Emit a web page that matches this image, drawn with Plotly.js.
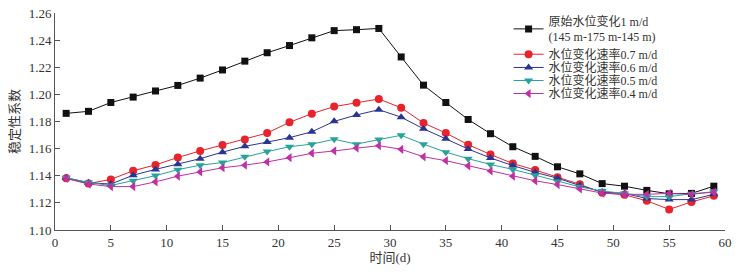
<!DOCTYPE html>
<html>
<head>
<meta charset="utf-8">
<script src="https://cdn.plot.ly/plotly-3.0.1.min.js"></script>
<style>html,body{margin:0;padding:0;background:#fff;}#chart{width:743px;height:274px;}</style>
</head>
<body>
<div id="chart"></div>
<script>
var days = [1,3,5,7,9,11,13,15,17,19,21,23,25,27,29,31,33,35,37,39,41,43,45,47,49,51,53,55,57,59];

var original = [1.186,1.1875,1.194,1.198,1.2025,1.2066,1.212,1.218,1.2245,1.2307,1.236,1.2417,1.247,1.2477,1.2486,1.2276,1.2068,1.194,1.1815,1.171,1.1614,1.1543,1.1466,1.1414,1.1342,1.1323,1.1292,1.1267,1.127,1.1323];
var rate07 = [1.1382,1.1342,1.1373,1.1437,1.148,1.1535,1.1583,1.1626,1.1667,1.1715,1.1794,1.1858,1.191,1.1939,1.1966,1.1901,1.1789,1.1715,1.1629,1.1557,1.149,1.1442,1.1389,1.1337,1.1275,1.126,1.1215,1.1152,1.1207,1.1252];
var rate06 = [1.1385,1.1348,1.1339,1.1404,1.1447,1.1485,1.1526,1.1574,1.1617,1.1648,1.1681,1.1724,1.1801,1.1848,1.1887,1.1832,1.1746,1.1672,1.1597,1.1531,1.1475,1.1425,1.1382,1.1328,1.128,1.127,1.1232,1.1224,1.1224,1.1263];
var rate05 = [1.1385,1.1351,1.1328,1.1363,1.1401,1.1445,1.1478,1.1497,1.154,1.1578,1.1614,1.1633,1.1669,1.1633,1.1667,1.1698,1.1633,1.1574,1.1526,1.1483,1.1447,1.1404,1.1358,1.1318,1.1287,1.127,1.1246,1.1246,1.1267,1.1282];
var rate04 = [1.138,1.1339,1.132,1.132,1.1355,1.1397,1.1428,1.1459,1.1478,1.1502,1.1533,1.1566,1.1583,1.1604,1.1622,1.1595,1.154,1.1511,1.1473,1.1435,1.1397,1.1363,1.1335,1.1303,1.1272,1.1263,1.1263,1.127,1.1263,1.128];

var seriesNames = ['原始水位变化1 m/d<br>(145 m-175 m-145 m)','水位变化速率0.7 m/d','水位变化速率0.6 m/d','水位变化速率0.5 m/d','水位变化速率0.4 m/d'];
var xTicks = [0,5,10,15,20,25,30,35,40,45,50,55,60];
var yTicks = [1.10,1.12,1.14,1.16,1.18,1.20,1.22,1.24,1.26];

var seriesData = [original, rate07, rate06, rate05, rate04];
var colors = ['#111111','#e8232c','#2a3592','#27a39a','#c22ea3'];
var symbols = ['square','circle','triangle-up','triangle-down','triangle-left'];
var sizes = [7,8,8,8,8];
var legendIds = ['legend','legend2','legend3','legend4','legend5'];
var legendY = [0.925,0.81,0.749,0.689,0.629];

var FONT = '"Liberation Serif", "Times New Roman", "Noto Sans CJK SC", serif';

var traces = seriesData.map(function(vals, i){
  return {
    x: days, y: vals, type: 'scatter', mode: 'lines+markers',
    name: seriesNames[i],
    legend: legendIds[i],
    line: {color: colors[i], width: 1},
    marker: {color: colors[i], symbol: symbols[i], size: sizes[i]}
  };
});

var layout = {
  width: 743, height: 274,
  margin: {l: 55, r: 18, t: 7, b: 44},
  paper_bgcolor: '#fff', plot_bgcolor: '#fff',
  font: {family: FONT, size: 13, color: '#333'},
  showlegend: true,
  xaxis: {
    range: [0, 60], tickvals: xTicks, ticktext: xTicks.map(String),
    showgrid: false, zeroline: false, showline: true, linecolor: '#555', linewidth: 1,
    ticks: 'inside', ticklen: 5, tickcolor: '#555',
    tickfont: {family: FONT, size: 13, color: '#333'},
    title: {text: '时间(d)', font: {family: FONT, size: 13, color: '#333'}, standoff: 4}
  },
  yaxis: {
    range: [1.10, 1.26], tickvals: yTicks, ticktext: yTicks.map(function(v){return v.toFixed(2);}),
    showgrid: false, zeroline: false, showline: true, linecolor: '#555', linewidth: 1,
    ticks: 'inside', ticklen: 5, tickcolor: '#555',
    tickfont: {family: FONT, size: 13, color: '#333'},
    title: {text: '稳定性系数', font: {family: FONT, size: 13, color: '#333'}, standoff: 6}
  }
};

legendIds.forEach(function(id, i){
  layout[id] = {
    x: 0.677, xanchor: 'left', y: legendY[i], yanchor: 'middle',
    bgcolor: 'rgba(0,0,0,0)', borderwidth: 0,
    font: {family: FONT, size: 12, color: '#333'},
    itemwidth: 30
  };
});

Plotly.newPlot('chart', traces, layout, {displayModeBar: false, staticPlot: true});
</script>
</body>
</html>
